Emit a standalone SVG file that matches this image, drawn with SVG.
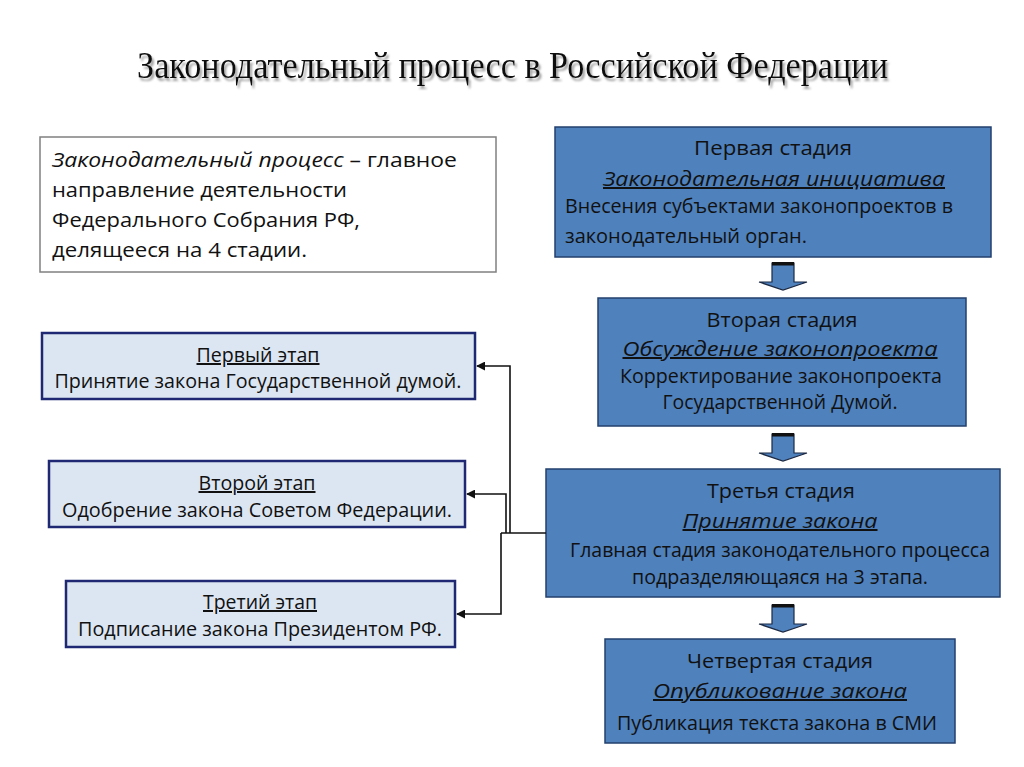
<svg xmlns="http://www.w3.org/2000/svg" width="1024" height="767" viewBox="0 0 1024 767">
<defs>
<style>
.t{font-family:"Open Sans","Liberation Sans",sans-serif;font-size:20px;fill:#111;}
.c{text-anchor:middle;}
.h{font-style:italic;text-decoration:underline;}
.u{text-decoration:underline;}
.blue{fill:#4f81bd;stroke:#23406e;stroke-width:1.5;}
.light{fill:#dce6f2;stroke:#1f2872;stroke-width:2.5;}
.conn{fill:none;stroke:#111;stroke-width:1.6;}
.barrow{fill:#4f81bd;stroke:#1c2a44;stroke-width:1.2;}
</style>
<marker id="ah" viewBox="0 0 10 10" refX="9" refY="5" markerWidth="9" markerHeight="9" markerUnits="userSpaceOnUse" orient="auto">
<path d="M0,0 L10,5 L0,10 z" fill="#111"/>
</marker>
<filter id="sh" x="-5%" y="-30%" width="110%" height="170%">
<feDropShadow dx="2" dy="3" stdDeviation="1.3" flood-color="#888" flood-opacity="0.8"/>
</filter>
<g id="barr">
<path class="barrow" d="M-11,0 L11,0 L11,19 L24,19 L0,27 L-24,19 L-11,19 Z"/>
<rect x="-11" y="-1" width="22" height="3.5" fill="#111"/>
</g>
</defs>
<rect width="1024" height="767" fill="#ffffff"/>

<g id="title">
<text x="137" y="78" font-family="Liberation Serif,serif" font-size="38" fill="#111" filter="url(#sh)" textLength="751" lengthAdjust="spacingAndGlyphs">Законодательный процесс в Российской Федерации</text>
</g>

<g id="definition">
<rect x="40" y="137" width="456" height="135" fill="#fff" stroke="#808080" stroke-width="1.5"/>
<text class="t" x="52" y="167" textLength="405" lengthAdjust="spacingAndGlyphs"><tspan font-style="italic">Законодательный процесс</tspan> – главное</text>
<text class="t" x="52" y="197" textLength="295" lengthAdjust="spacingAndGlyphs">направление деятельности</text>
<text class="t" x="52" y="227" textLength="308" lengthAdjust="spacingAndGlyphs">Федерального Собрания РФ,</text>
<text class="t" x="52" y="257" textLength="255" lengthAdjust="spacingAndGlyphs">делящееся на 4 стадии.</text>
</g>

<g id="stage1">
<rect class="blue" x="555" y="127" width="436" height="130"/>
<text class="t c" x="773" y="155" textLength="158" lengthAdjust="spacingAndGlyphs">Первая стадия</text>
<text class="t c h" x="774" y="186" textLength="342" lengthAdjust="spacingAndGlyphs">Законодательная инициатива</text>
<text class="t" x="565" y="213" textLength="388" lengthAdjust="spacingAndGlyphs">Внесения субъектами законопроектов в</text>
<text class="t" x="565" y="243" textLength="242" lengthAdjust="spacingAndGlyphs">законодательный орган.</text>
</g>

<g id="stage2">
<rect class="blue" x="598" y="298" width="368" height="128"/>
<text class="t c" x="782" y="327" textLength="151" lengthAdjust="spacingAndGlyphs">Вторая стадия</text>
<text class="t c h" x="780" y="356" textLength="315" lengthAdjust="spacingAndGlyphs">Обсуждение законопроекта</text>
<text class="t c" x="781" y="383" textLength="322" lengthAdjust="spacingAndGlyphs">Корректирование законопроекта</text>
<text class="t c" x="780" y="409" textLength="235" lengthAdjust="spacingAndGlyphs">Государственной Думой.</text>
</g>

<g id="stage3">
<rect class="blue" x="546" y="469" width="454" height="128"/>
<text class="t c" x="781" y="498" textLength="148" lengthAdjust="spacingAndGlyphs">Третья стадия</text>
<text class="t c h" x="780" y="528" textLength="195" lengthAdjust="spacingAndGlyphs">Принятие закона</text>
<text class="t c" x="780" y="557" textLength="420" lengthAdjust="spacingAndGlyphs">Главная стадия законодательного процесса</text>
<text class="t c" x="780" y="584" textLength="296" lengthAdjust="spacingAndGlyphs">подразделяющаяся на 3 этапа.</text>
</g>

<g id="stage4">
<rect class="blue" x="605" y="639" width="350" height="104"/>
<text class="t c" x="780" y="668" textLength="186" lengthAdjust="spacingAndGlyphs">Четвертая стадия</text>
<text class="t c h" x="780" y="698" textLength="254" lengthAdjust="spacingAndGlyphs">Опубликование закона</text>
<text class="t c" x="777" y="730" textLength="320" lengthAdjust="spacingAndGlyphs">Публикация текста закона в СМИ</text>
</g>

<g id="step1">
<rect class="light" x="42" y="333" width="433" height="66"/>
<text class="t c u" x="258" y="362" textLength="123" lengthAdjust="spacingAndGlyphs">Первый этап</text>
<text class="t c" x="258" y="388" textLength="407" lengthAdjust="spacingAndGlyphs">Принятие закона Государственной думой.</text>
</g>

<g id="step2">
<rect class="light" x="49" y="461" width="416" height="66"/>
<text class="t c u" x="257" y="490" textLength="117" lengthAdjust="spacingAndGlyphs">Второй этап</text>
<text class="t c" x="257" y="517" textLength="390" lengthAdjust="spacingAndGlyphs">Одобрение закона Советом Федерации.</text>
</g>

<g id="step3">
<rect class="light" x="66" y="581" width="389" height="66"/>
<text class="t c u" x="260" y="609" textLength="114" lengthAdjust="spacingAndGlyphs">Третий этап</text>
<text class="t c" x="260" y="636" textLength="364" lengthAdjust="spacingAndGlyphs">Подписание закона Президентом РФ.</text>
</g>

<g id="connectors">
<use href="#barr" x="783" y="263"/>
<use href="#barr" x="783" y="434"/>
<use href="#barr" x="783" y="605"/>
<path class="conn" d="M546,533 L501,533"/>
<path class="conn" d="M510,533 L510,366 L477,366" marker-end="url(#ah)"/>
<path class="conn" d="M506,533 L506,494 L467,494" marker-end="url(#ah)"/>
<path class="conn" d="M501,533 L501,614 L457,614" marker-end="url(#ah)"/>
</g>
</svg>
